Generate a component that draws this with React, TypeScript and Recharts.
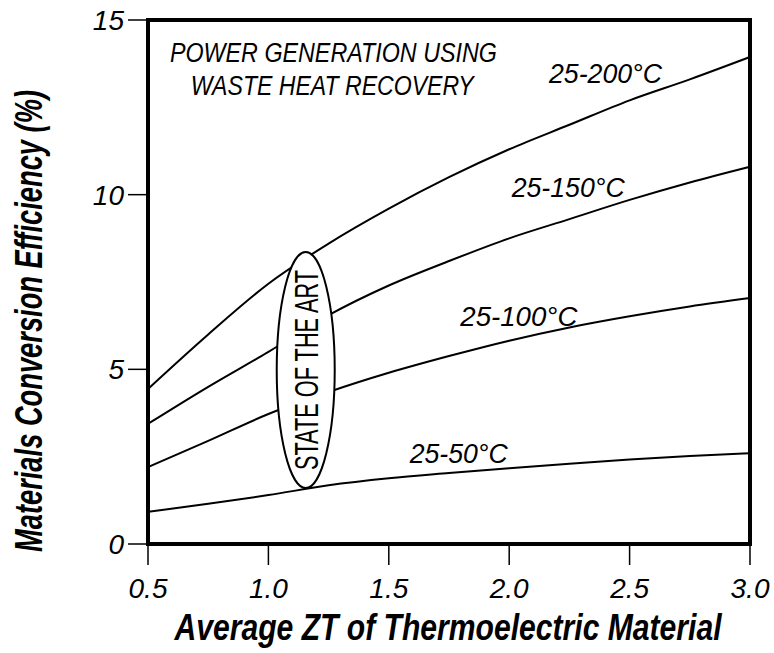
import React from 'react';
import { LineChart, Line, XAxis, YAxis, ReferenceArea, ReferenceDot } from 'recharts';

const zt = [0.5, 0.75, 1.0, 1.25, 1.5, 1.75, 2.0, 2.25, 2.5, 2.75, 3.0];
const eff200 = [4.44, 6.0, 7.45, 8.6, 9.6, 10.5, 11.3, 12.0, 12.7, 13.3, 13.94];
const eff150 = [3.44, 4.5, 5.5, 6.55, 7.4, 8.1, 8.75, 9.3, 9.85, 10.35, 10.8];
const eff100 = [2.2, 2.95, 3.72, 4.35, 4.9, 5.38, 5.82, 6.2, 6.52, 6.8, 7.04];
const eff50 = [0.92, 1.15, 1.4, 1.68, 1.88, 2.03, 2.17, 2.3, 2.42, 2.52, 2.6];

const xTicks = [0.5, 1.0, 1.5, 2.0, 2.5, 3.0];
const yTicks = [0, 5, 10, 15];

const data = zt.map((x, i) => ({
  zt: x,
  t200: eff200[i],
  t150: eff150[i],
  t100: eff100[i],
  t50: eff50[i],
}));

const FONT = "'Liberation Sans', Arial, sans-serif";

// curve labels: [text, x, y, width]
const curveLabels: Array<[string, number, number, number]> = [
  ['25-200°C', 2.4, 13.2, 113],
  ['25-150°C', 2.245, 9.93, 113],
  ['25-100°C', 2.04, 6.25, 117],
  ['25-50°C', 1.79, 2.32, 98],
];

// text squeezed horizontally like the condensed face in the original
const Squeezed = ({ x, y, sx, width, size, bold, italic, rotate, children }: any) => (
  <g transform={`translate(${x} ${y})${rotate ? ` rotate(${rotate})` : ''} scale(${sx} 1)`}>
    <text
      x={0}
      y={0}
      textAnchor="middle"
      fontFamily={FONT}
      fontWeight={bold ? 'bold' : 'normal'}
      fontStyle={italic ? 'italic' : 'normal'}
      fontSize={size}
      fill="#000"
      textLength={width / sx}
      lengthAdjust="spacingAndGlyphs"
    >
      {children}
    </text>
  </g>
);

const LabelAt = (text: string, width: number, sx = 1, size = 28) => (p: any) => (
  <Squeezed x={p.cx} y={p.cy} sx={sx} width={width} size={size} italic>
    {text}
  </Squeezed>
);

const StateOfArt = (p: any) => (
  <g>
    <ellipse cx={p.cx} cy={p.cy} rx={29} ry={118} fill="#fff" stroke="#000" strokeWidth={2} />
    <Squeezed x={p.cx + 12} y={p.cy} sx={0.62} width={200} size={34} rotate={-90}>
      STATE OF THE ART
    </Squeezed>
  </g>
);

export default function App() {
  return (
    <div style={{ position: 'absolute', left: 0, top: 0, background: '#fff' }}>
      <LineChart
        width={774}
        height={653}
        data={data}
        margin={{ top: 20, right: 24, left: 0, bottom: 0 }}
      >
        <XAxis
          dataKey="zt"
          type="number"
          domain={[0.5, 3]}
          ticks={xTicks}
          tickFormatter={(v) => v.toFixed(1)}
          axisLine={false}
          tickLine={{ stroke: '#000', strokeWidth: 1.5 }}
          tickSize={21}
          tickMargin={13}
          height={109}
          tick={{ fontSize: 28, fontStyle: 'italic', fill: '#000', fontFamily: FONT }}
          label={{
            content: () => (
              <Squeezed x={448} y={640} sx={0.79} width={547} size={37} bold italic>
                Average ZT of Thermoelectric Material
              </Squeezed>
            ),
          }}
        />
        <YAxis
          type="number"
          domain={[0, 15]}
          ticks={yTicks}
          axisLine={false}
          tickLine={{ stroke: '#000', strokeWidth: 1.5 }}
          tickSize={20}
          tickMargin={4}
          width={148}
          tick={{ fontSize: 28, fontStyle: 'italic', fill: '#000', fontFamily: FONT }}
          label={{
            content: () => (
              <Squeezed x={42} y={321} sx={0.71} width={462} size={38} bold italic rotate={-90}>
                Materials Conversion Efficiency (%)
              </Squeezed>
            ),
          }}
        />
        <ReferenceArea x1={0.5} x2={3} y1={0} y2={15} fill="none" stroke="#000" strokeWidth={4} />
        <Line type="monotone" dataKey="t200" stroke="#000" strokeWidth={2} dot={false} isAnimationActive={false} />
        <Line type="monotone" dataKey="t150" stroke="#000" strokeWidth={2} dot={false} isAnimationActive={false} />
        <Line type="monotone" dataKey="t100" stroke="#000" strokeWidth={2} dot={false} isAnimationActive={false} />
        <Line type="monotone" dataKey="t50" stroke="#000" strokeWidth={2} dot={false} isAnimationActive={false} />
        <ReferenceDot x={1.155} y={4.98} r={0} shape={StateOfArt} />
        <ReferenceDot x={1.27} y={13.8} r={0} shape={LabelAt('POWER GENERATION USING', 327, 0.8)} />
        <ReferenceDot x={1.265} y={12.85} r={0} shape={LabelAt('WASTE HEAT RECOVERY', 283, 0.8)} />
        {curveLabels.map(([t, x, y, w]) => (
          <ReferenceDot key={t} x={x} y={y} r={0} shape={LabelAt(t, w, 0.95)} />
        ))}
      </LineChart>
    </div>
  );
}
